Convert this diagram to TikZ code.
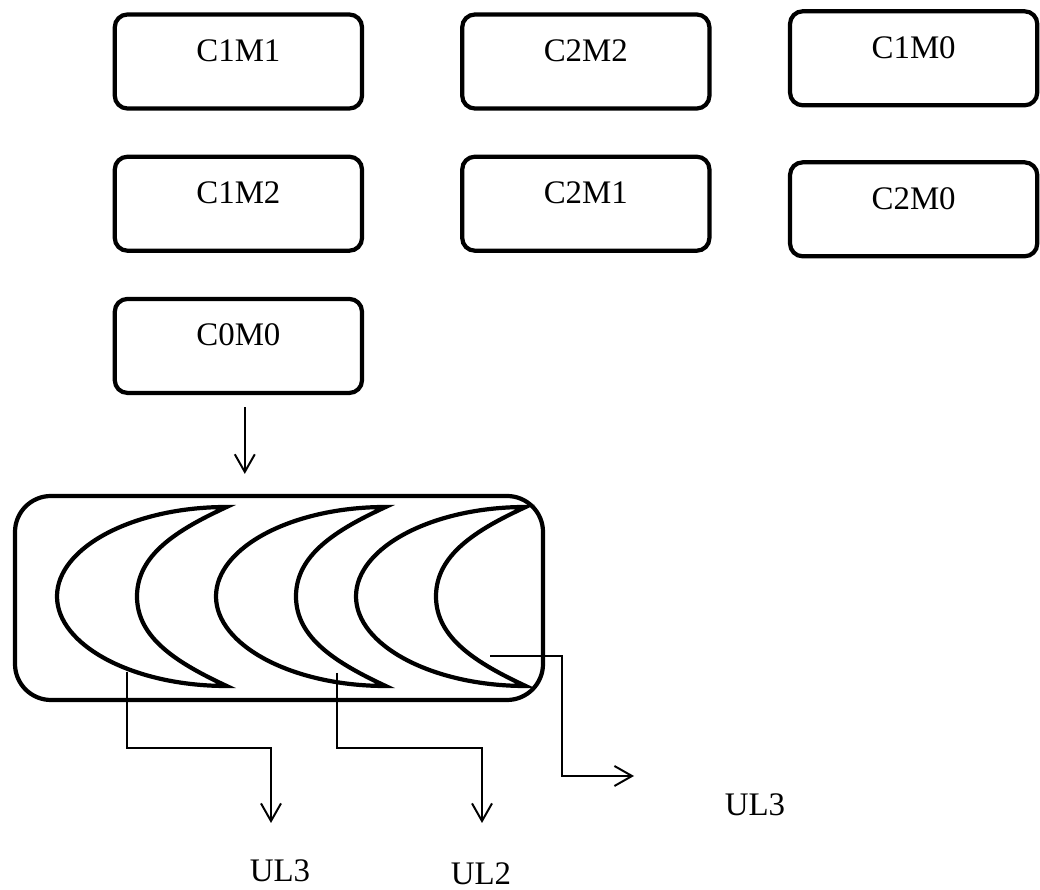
\documentclass[tikz,border=0pt]{standalone}
\usepackage{fontspec}
\setmainfont{Liberation Serif}
\usetikzlibrary{positioning, arrows.meta}

\begin{document}
\begin{tikzpicture}[
    font=\fontsize{11.7}{14}\selectfont,
    node distance=0.55cm and 1.2cm,
    state/.style={rectangle, draw, line width=1.5pt, rounded corners=4.5pt, minimum width=3.09cm, minimum height=1.175cm, text height=0.3cm, text depth=0.3cm, inner sep=0pt},
    tank/.style={rectangle, draw, line width=1.5pt, rounded corners=0.45cm, minimum width=6.6cm, minimum height=2.55cm},
    blade/.style={line width=1.5pt},
    arrow/.style={-{Straight Barb[length=0.22cm, width=0.25cm]}, line width=0.7pt}
]
    \useasboundingbox (0,0) rectangle (13,11.125);

    % states
    \node[state] at (2.98,10.356) (c1m1) {C1M1};
    \node[state, right=of c1m1] (c2m2) {C2M2};
    \node[state, right=0.955cm of c2m2, yshift=0.04cm] (c1m0) {C1M0};
    \node[state, below=of c1m1] (c1m2) {C1M2};
    \node[state, below=of c2m2] (c2m1) {C2M1};
    \node[state, below=0.66cm of c1m0] (c2m0) {C2M0};
    \node[state, below=of c1m2] (c0m0) {C0M0};

    % tank with the three blades
    \node[tank] at (3.4875,3.65) (tank) {};
    \foreach \o in {0.7125, 2.7, 4.45}
        \draw[blade] (\o+2.12,4.7875) .. controls (\o+0.95,4.7875) and (\o,4.28) .. (\o,3.67)
            .. controls (\o,3.06) and (\o+0.95,2.55) .. (\o+2.12,2.55)
            .. controls (\o+1.5,2.84) and (\o+1.0,3.15) .. (\o+1.0,3.67)
            .. controls (\o+1.0,4.19) and (\o+1.5,4.5) .. cycle;

    \draw[arrow, shorten <=0.15cm, shorten >=0.25cm] ([xshift=0.08cm]c0m0.south) -- ([xshift=0.08cm]c0m0.south |- tank.north);

    % outlets
    \coordinate (out1) at (1.5875,2.725);
    \coordinate (out2) at (4.2125,2.7125);
    \coordinate (out3) at (6.125,2.925);
    \coordinate (end1) at (3.3875,0.8375);
    \coordinate (end2) at (6.025,0.8375);
    \coordinate (end3) at (7.925,1.425);

    \draw[arrow] (out1) -- ++(0,-0.95) -| (end1);
    \draw[arrow] (out2) -- ++(0,-0.9375) -| (end2);
    \draw[arrow] (out3) -| ++(0.9,-1.5) -- (end3);

    \node at (3.5,0.2375) (ul3a) {UL3};
    \node at (6.0125,0.2) (ul2) {UL2};
    \node at (9.4375,1.0625) (ul3b) {UL3};
\end{tikzpicture}
\end{document}
